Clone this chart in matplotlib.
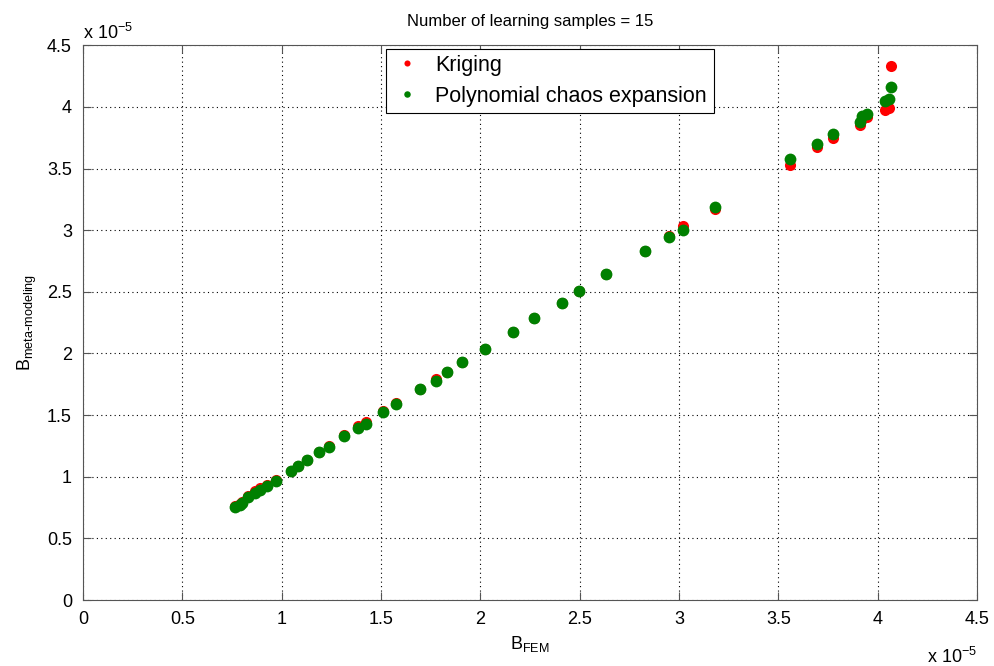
import numpy as np
import matplotlib
matplotlib.use("Agg")
import matplotlib.pyplot as plt

plt.rcParams['font.family'] = ['Liberation Sans', 'DejaVu Sans']

# FEM reference values (x 1e-5)
b_fem = np.array([0.765, 0.79, 0.80, 0.832, 0.866, 0.89, 0.924, 0.971, 1.045, 1.084,
                  1.129, 1.19, 1.238, 1.315, 1.382, 1.424, 1.508, 1.575, 1.696, 1.777,
                  1.833, 1.906, 2.023, 2.166, 2.271, 2.412, 2.496, 2.632, 2.83, 2.948,
                  3.018, 3.182, 3.558, 3.695, 3.774, 3.91, 3.92, 3.947, 4.036, 4.058,
                  4.065])

# kriging predictions (x 1e-5)
b_krig = np.array([0.76, 0.78, 0.795, 0.848, 0.882, 0.905, 0.93, 0.975, 1.05, 1.09,
                   1.135, 1.205, 1.25, 1.335, 1.41, 1.445, 1.535, 1.60, 1.71, 1.795,
                   1.85, 1.93, 2.035, 2.175, 2.29, 2.41, 2.505, 2.645, 2.835, 2.95,
                   3.035, 3.17, 3.528, 3.676, 3.744, 3.857, 3.9, 3.915, 3.974, 3.995,
                   4.333])

# polynomial chaos predictions (x 1e-5)
b_pce = np.array([0.757, 0.775, 0.79, 0.838, 0.872, 0.895, 0.925, 0.965, 1.049, 1.087,
                  1.135, 1.203, 1.243, 1.33, 1.395, 1.425, 1.522, 1.587, 1.709, 1.78,
                  1.849, 1.928, 2.036, 2.173, 2.285, 2.409, 2.506, 2.644, 2.833, 2.941,
                  3.0, 3.185, 3.574, 3.698, 3.779, 3.879, 3.93, 3.939, 4.05, 4.063,
                  4.163])

ticks = np.arange(0, 4.51, 0.5)

fig = plt.figure(figsize=(9.94, 6.66), dpi=100)
ax = fig.add_axes([0.0835, 0.099, 0.8995, 0.833])

ax.plot(b_fem, b_krig, 'o', color='#ff0000', markersize=8, markeredgewidth=0,
        label='Kriging', zorder=3)
ax.plot(b_fem, b_pce, 'o', color='#008000', markersize=8.5, markeredgewidth=0,
        label='Polynomial chaos expansion', zorder=4)

ax.set_xlim(0, 4.5)
ax.set_ylim(0, 4.5)
ax.set_xticks(ticks)
ax.set_yticks(ticks)
ax.set_xticklabels(['%g' % t for t in ticks])
ax.set_yticklabels(['%g' % t for t in ticks])
ax.tick_params(direction='in', length=6, labelsize=13, top=True, right=True,
               color='#555555', pad=8)
for s in ax.spines.values():
    s.set_color('#555555')

ax.grid(True, linestyle=(0, (1, 3)), color='black', linewidth=0.8)

ax.text(0.0, 1.005, r'x 10$^{\mathregular{-5}}$', transform=ax.transAxes, fontsize=13,
        ha='left', va='bottom')
ax.text(1.0, -0.085, r'x 10$^{\mathregular{-5}}$', transform=ax.transAxes, fontsize=13,
        ha='right', va='top')

ax.set_title('Number of learning samples = 15', fontsize=12, pad=14)
ax.set_xlabel(r'B$_{\mathregular{FEM}}$', fontsize=13, labelpad=4)
ax.set_ylabel(r'B$_{\mathregular{meta\text{-}modeling}}$', fontsize=13, labelpad=6)

leg = ax.legend(loc='upper center', bbox_to_anchor=(0.522, 1.0), borderaxespad=0.15,
                fontsize=15.5, markerscale=0.55, handlelength=1.4, handletextpad=0.6,
                labelspacing=0.45, fancybox=False, framealpha=1, edgecolor='black',
                borderpad=0.3)
leg.get_frame().set_linewidth(0.8)

fig.savefig('out.png', dpi=100)
